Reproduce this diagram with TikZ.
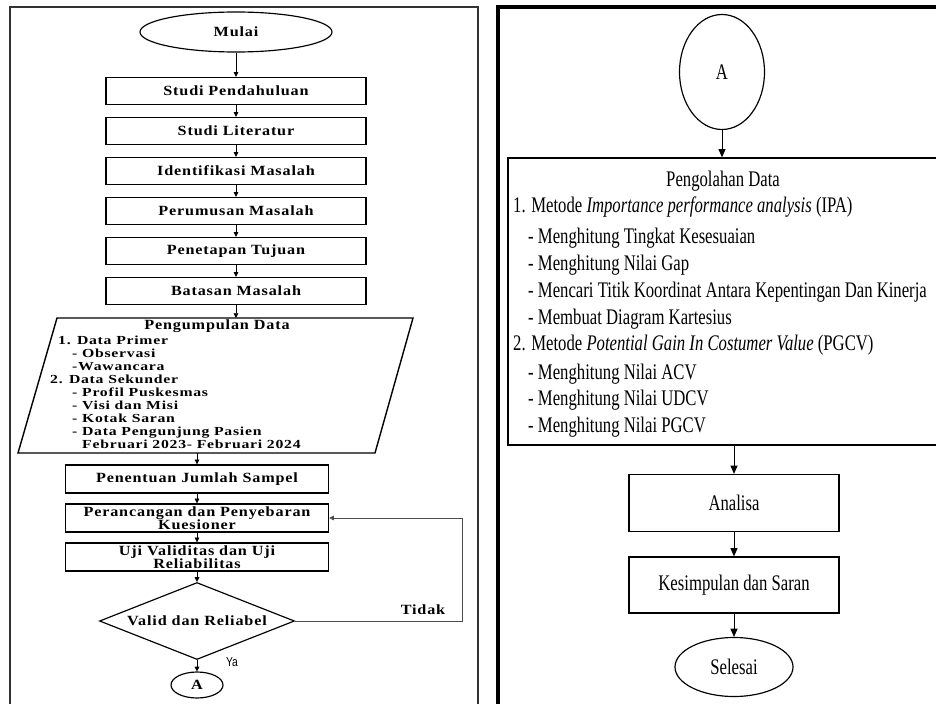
\documentclass[tikz,border=0pt]{standalone}
\usepackage{fontspec}
\setmainfont{Liberation Serif}
\newfontfamily\wideserif[FakeStretch=1.15,LetterSpace=6]{Liberation Serif}
\newfontfamily\widerserif[FakeStretch=1.28,LetterSpace=6]{Liberation Serif}
\newfontfamily\narrowserif[FakeStretch=0.75]{Liberation Serif}
\newfontfamily\narrowsans[FakeStretch=0.8]{Liberation Sans}
\usetikzlibrary{shapes.geometric,arrows.meta}

\newcommand{\kiri}{\wideserif\bfseries\fontsize{12}{11}\selectfont}
\newcommand{\kirikecil}{\widerserif\bfseries\fontsize{10.5}{10.5}\selectfont}
\newcommand{\kanan}{\narrowserif\fontsize{19}{22.8}\selectfont}

\tikzset{
  langkah/.style={draw, line width=1.2pt, minimum width=7.8cm, minimum height=0.81cm,
    inner sep=0pt, align=center, font=\kiri},
  langkahbawah/.style={langkah, minimum width=7.89cm, minimum height=0.84cm},
  terminal/.style={draw, ellipse, line width=1pt, inner sep=0pt},
  proses/.style={draw, line width=1.1pt, minimum width=6.3cm, minimum height=1.71cm,
    inner sep=0pt, font=\kanan},
  panahkecil/.style={-{Triangle[length=4pt,width=4pt]}, line width=0.6pt},
  panahbesar/.style={-{Triangle[length=7pt,width=6pt]}, line width=0.7pt}
}

\begin{document}
\begin{tikzpicture}[x=0.03cm,y=-0.03cm]
    \clip (0,0) rectangle (936,703);

    % Frames
    \draw[line width=1.4pt, black!80] (10,710) -- (10,7) -- (478,7) -- (478,710);
    \draw[line width=3pt] (498,710) -- (498,7) -- (945,7);

    % Left side
    \node[terminal, minimum width=5.76cm, minimum height=1.2cm, font=\kiri] (mulai) at (236,32) {Mulai};
    \node[langkah] (pendahuluan) at (236,91) {Studi Pendahuluan};
    \node[langkah] (literatur) at (236,131) {Studi Literatur};
    \node[langkah] (identifikasi) at (236,171) {Identifikasi Masalah};
    \node[langkah] (perumusan) at (236,211) {Perumusan Masalah};
    \node[langkah] (tujuan) at (236,251) {Penetapan Tujuan};
    \node[langkah] (batasan) at (236,291) {Batasan Masalah};

    % Pengumpulan data (parallelogram)
    \draw[line width=1.2pt] (57,318) -- (413,318) -- (375,453) -- (18,453) -- cycle;
    \coordinate (kumpulatas) at (236,318);
    \coordinate (kumpulbawah) at (197,453);
    \node[font=\kiri] (kumpuljudul) at (217,326) {Pengumpulan Data};
    \foreach \px/\py/\teks [count=\i] in {
        58/340/{1. Data Primer},
        72/353/{- Observasi},
        72/366/{-Wawancara},
        50/379/{2. Data Sekunder},
        72/392/{- Profil Puskesmas},
        72/405/{- Visi dan Misi},
        72/418/{- Kotak Saran},
        72/431/{- Data Pengunjung Pasien},
        82/444/{Februari 2023- Februari 2024}}
      \node[anchor=base west, inner sep=0pt, font=\kirikecil] (kumpul\i) at (\px,\py+4) {\teks};

    \node[langkahbawah] (sampel) at (197,479) {Penentuan Jumlah Sampel};
    \node[langkahbawah] (kuesioner) at (197,518) {Perancangan dan Penyebaran\\Kuesioner};
    \node[langkahbawah] (uji) at (197,557) {Uji Validitas dan Uji\\Reliabilitas};
    \node[draw, diamond, aspect=2.53, line width=1pt, minimum width=5.85cm, minimum height=2.31cm,
      inner sep=0pt, font=\kiri] (valid) at (197,621) {Valid dan Reliabel};
    \node[terminal, minimum width=1.56cm, minimum height=0.78cm, font=\kiri] (konektorkiri) at (197,685) {A};
    \coordinate (belok) at (462,518);
    \node[font=\kiri] (tidak) at (423,610) {Tidak};
    \node[font=\narrowsans\fontsize{11}{11}\selectfont] (ya) at (232,662) {Ya};

    % Left arrows
    \draw[panahkecil] (mulai) -- (pendahuluan);
    \draw[panahkecil] (pendahuluan) -- (literatur);
    \draw[panahkecil] (literatur) -- (identifikasi);
    \draw[panahkecil] (identifikasi) -- (perumusan);
    \draw[panahkecil] (perumusan) -- (tujuan);
    \draw[panahkecil] (tujuan) -- (batasan);
    \draw[panahkecil] (batasan) -- (kumpulatas);
    \draw[panahkecil] (kumpulbawah) -- (sampel);
    \draw[panahkecil] (sampel) -- (kuesioner);
    \draw[panahkecil] (kuesioner) -- (uji);
    \draw[panahkecil] (uji) -- (valid);
    \draw[panahkecil] (valid) -- (konektorkiri);
    \draw[panahkecil, black!70] (valid.east) -| (belok) -- (kuesioner.east);

    % Right side
    \node[terminal, minimum width=2.55cm, minimum height=3.45cm, font=\kanan] (konektorkanan) at (722,72) {A};
    \node[draw, line width=1.2pt, minimum width=13.11cm, minimum height=8.61cm, inner sep=0pt] (olah) at (726.5,301.5) {};
    \node[font=\kanan] (olahjudul) at (723,181) {Pengolahan Data};
    \foreach \px/\py/\teks [count=\i] in {
        513/205/{1. Metode \textit{Importance performance analysis} (IPA)},
        528/236/{- Menghitung Tingkat Kesesuaian},
        528/263/{- Menghitung Nilai Gap},
        528/290/{- Mencari Titik Koordinat Antara Kepentingan Dan Kinerja},
        528/317/{- Membuat Diagram Kartesius},
        513/343/{2. Metode \textit{Potential Gain In Costumer Value} (PGCV)},
        528/372/{- Menghitung Nilai ACV},
        528/398/{- Menghitung Nilai UDCV},
        528/425/{- Menghitung Nilai PGCV}}
      \node[anchor=base west, inner sep=0pt, font=\kanan] (olah\i) at (\px,\py+7) {\teks};
    \node[proses] (analisa) at (734,503) {Analisa};
    \node[proses, minimum height=1.68cm] (kesimpulan) at (734,585) {Kesimpulan dan Saran};
    \node[terminal, minimum width=3.54cm, minimum height=1.77cm, font=\kanan] (selesai) at (734,667) {Selesai};

    % Right arrows
    \draw[panahbesar] (konektorkanan) -- (konektorkanan.south |- olah.north);
    \draw[panahbesar] (analisa.north |- olah.south) -- (analisa);
    \draw[panahbesar] (analisa) -- (kesimpulan);
    \draw[panahbesar] (kesimpulan) -- (selesai);
\end{tikzpicture}
\end{document}
